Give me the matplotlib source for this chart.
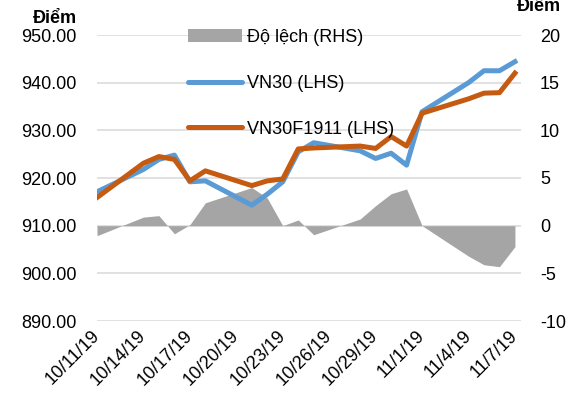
"""VN30 vs VN30F1911 with the basis (Độ lệch) as a shaded area on the right axis."""

import matplotlib

matplotlib.use("Agg")
import matplotlib.pyplot as plt
import numpy as np
import pandas as pd
from matplotlib.patches import Patch
from matplotlib.lines import Line2D

DATES = [
    "2019-10-11", "2019-10-14", "2019-10-15", "2019-10-16", "2019-10-17",
    "2019-10-18", "2019-10-21", "2019-10-22", "2019-10-23", "2019-10-24",
    "2019-10-25", "2019-10-28", "2019-10-29", "2019-10-30", "2019-10-31",
    "2019-11-01", "2019-11-04", "2019-11-05", "2019-11-06", "2019-11-07",
]
VN30 = [
    917.1, 921.8, 923.9, 924.8, 919.2, 919.4, 914.3, 916.6, 919.2, 925.5,
    927.4, 925.7, 924.1, 925.2, 922.7, 933.9, 940.0, 942.5, 942.5, 944.4,
]
VN30F1911 = [
    915.9, 923.1, 924.5, 923.9, 919.4, 921.5, 918.4, 919.4, 919.8, 926.1,
    926.3, 926.7, 926.2, 928.7, 926.7, 933.6, 936.6, 937.8, 937.9, 942.0,
]
DO_LECH = [
    -1.05, 0.9, 1.05, -0.85, 0.1, 2.4, 4.0, 2.9, 0.0, 0.6,
    -0.95, 0.7, 2.1, 3.35, 3.85, 0.0, -3.2, -4.1, -4.3, -2.2,
]
LEFT_TICKS = [890, 900, 910, 920, 930, 940, 950]
RIGHT_TICKS = [-10, -5, 0, 5, 10, 15, 20]
LABELS = ["Độ lệch (RHS)", "VN30 (LHS)", "VN30F1911 (LHS)"]

BLUE = "#5B9BD5"
ORANGE = "#C55A11"
GRAY = "#A5A5A5"
GRID = "#D9D9D9"

W, H = 579, 403


def main() -> None:
    plt.rcParams["font.family"] = ["Liberation Sans", "DejaVu Sans"]
    plt.rcParams["font.size"] = 13

    x = pd.to_datetime(DATES)
    fig = plt.figure(figsize=(W / 100, H / 100), dpi=100)
    ax2 = fig.add_axes([97 / W, 1 - 321 / H, 424 / W, 286 / H])
    ax1 = ax2.twinx()
    # left axis values on the left, deviation on the right
    ax1.yaxis.tick_left()
    ax2.yaxis.tick_right()
    ax1.set_zorder(ax2.get_zorder() + 1)
    ax1.patch.set_visible(False)

    ax2.fill_between(x, 0, DO_LECH, color=GRAY, linewidth=0)
    ax2.set_ylim(-10, 20)
    ax2.set_yticks(RIGHT_TICKS)
    ax2.set_yticklabels([str(v) for v in RIGHT_TICKS])
    ax2.set_axisbelow(True)
    ax2.grid(axis="y", color=GRID, lw=1.1)

    ax1.plot(x, VN30, color=BLUE, lw=3.6, solid_joinstyle="round")
    ax1.plot(x, VN30F1911, color=ORANGE, lw=3.6, solid_joinstyle="round")
    ax1.set_ylim(890, 950)
    ax1.set_yticks(LEFT_TICKS)
    ax1.set_yticklabels([f"{v:.2f}" for v in LEFT_TICKS])

    x0 = x[0]
    x1 = x[-1] + pd.Timedelta(hours=9.4)
    ax1.set_xlim(x0, x1)
    xt = pd.date_range(x[0], x[-1], freq="3D")
    ax2.set_xticks(xt)
    ax2.set_xticklabels(
        [f"{d.month}/{d.day}/{d:%y}" for d in xt],
        rotation=45, ha="right", va="center", rotation_mode="anchor",
    )

    for ax in (ax1, ax2):
        for s in ax.spines.values():
            s.set_visible(False)
        ax.tick_params(length=0)
    ax1.tick_params(axis="y", pad=14.4)
    ax2.tick_params(axis="y", pad=13.7)
    ax2.tick_params(axis="x", pad=9)

    handles = [
        Patch(facecolor=GRAY, edgecolor="none"),
        Line2D([], [], color=BLUE, lw=3.6, solid_capstyle="round"),
        Line2D([], [], color=ORANGE, lw=3.6, solid_capstyle="round"),
    ]
    ax1.legend(
        handles, LABELS, loc="upper left",
        bbox_to_anchor=(188 / W, 1 - 29 / H), bbox_transform=fig.transFigure,
        frameon=False, borderpad=0, borderaxespad=0,
        handlelength=3.0, handletextpad=0.25, labelspacing=1.6,
    )

    fig.text(77 / W, 1 - 23 / H, "Điểm", ha="right", va="baseline", fontweight="bold")
    fig.text(561 / W, 1 - 11 / H, "Điểm", ha="right", va="baseline", fontweight="bold")

    fig.savefig("out.png", dpi=100)
    plt.close(fig)


if __name__ == "__main__":
    main()
